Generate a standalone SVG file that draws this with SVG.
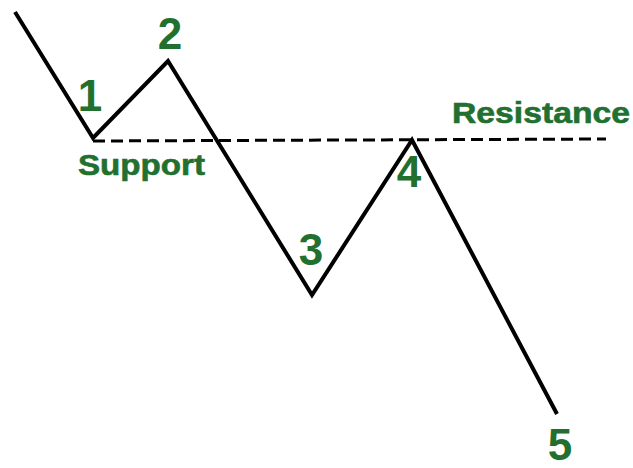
<svg xmlns="http://www.w3.org/2000/svg" width="633" height="468" viewBox="0 0 633 468">
<style>
.lbl{font-family:"Liberation Sans",Arial,sans-serif;font-weight:bold;fill:#22702f}
.num{font-size:44px;text-anchor:middle}
.word{font-size:29px;stroke:#22702f;stroke-width:0.6}
.price{fill:none;stroke:#000;stroke-width:4;stroke-linejoin:miter}
.level{fill:none;stroke:#000;stroke-width:3;stroke-dasharray:12 6}
</style>
<rect width="633" height="468" fill="#fff"/>
<g id="connectors">
<path class="level" d="M93,141 L606,139"/>
<path class="price" d="M15,12 L93,138 L168,61 L312,295 L412,140 L557,414"/>
</g>
<g id="p1"><text class="lbl num" x="90" y="111">1</text></g>
<g id="p2"><text class="lbl num" x="170" y="49">2</text></g>
<g id="p3"><text class="lbl num" x="311" y="265">3</text></g>
<g id="p4"><text class="lbl num" x="409" y="187">4</text></g>
<g id="p5"><text class="lbl num" x="560" y="460">5</text></g>
<g id="support"><text class="lbl word" x="78" y="175" textLength="127" lengthAdjust="spacingAndGlyphs">Support</text></g>
<g id="resistance"><text class="lbl word" x="452" y="123" textLength="178" lengthAdjust="spacingAndGlyphs">Resistance</text></g>
</svg>
